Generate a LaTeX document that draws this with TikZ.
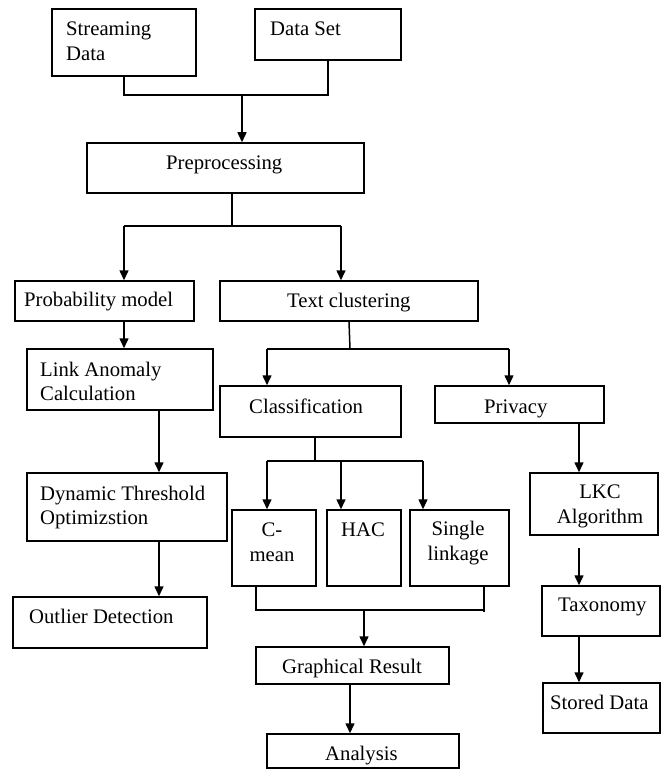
\documentclass[tikz,border=0pt]{standalone}
\usepackage{fontspec}
\setmainfont{Liberation Serif}
\usetikzlibrary{arrows.meta,fit}
\tikzset{
  box/.style={draw=black, line width=1.5pt, inner sep=0pt, rectangle},
  lnk/.style={draw=black, line width=1.5pt},
  arr/.style={lnk, -{Triangle[width=9pt,length=10pt]}},
  txt/.style={inner sep=0pt, font=\fontsize{20.7}{24}\selectfont, text=black}
}
\newcommand\lblw[4]{\node[txt, anchor=base west] (#1) at (#2,#3) {#4};}
\newcommand\lblc[4]{\node[txt, anchor=base] (#1) at (#2,#3) {#4};}
\begin{document}
\begin{tikzpicture}[x=1pt,y=-1pt]
\useasboundingbox[fill=white] (0,0) rectangle (668,770);
% boxes
\node[box, fit={(52,9) (196,76)}] (sd) {};
\node[box, fit={(255,9) (401,60)}] (ds) {};
\node[box, fit={(87,143) (364,193)}] (pp) {};
\node[box, fit={(15,281) (194,321)}] (pm) {};
\node[box, fit={(220,281) (478,321)}] (tc) {};
\node[box, fit={(27,349) (213,410)}] (la) {};
\node[box, fit={(220,386) (401,437)}] (cl) {};
\node[box, fit={(435,386) (604,423)}] (pr) {};
\node[box, fit={(27,473) (227,541)}] (dt) {};
\node[box, fit={(232,510) (316,586)}] (cm) {};
\node[box, fit={(327,510) (401,586)}] (hac) {};
\node[box, fit={(410,510) (509,586)}] (sl) {};
\node[box, fit={(530,473) (658,535)}] (lkc) {};
\node[box, fit={(542,586) (660,636)}] (tx) {};
\node[box, fit={(13,597) (207,648)}] (od) {};
\node[box, fit={(256,647) (449,684)}] (gr) {};
\node[box, fit={(267,734) (459,768)}] (an) {};
\node[box, fit={(543,683) (660,733)}] (st) {};
% texts
\lblw{t1}{66}{36}{Streaming}
\lblw{t2}{66}{61}{Data}
\lblw{t3}{270}{36}{Data Set}
\lblw{t4}{166}{169}{Preprocessing}
\lblw{t5}{24}{306}{Probability model}
\lblw{t6}{287}{307}{Text clustering}
\lblw{t7}{40}{376}{Link Anomaly}
\lblw{t8}{40}{400}{Calculation}
\lblw{t9}{249}{413}{Classification}
\lblw{t10}{484}{413}{Privacy}
\lblw{t11}{40}{500}{Dynamic Threshold}
\lblw{t12}{40}{524}{Optimizstion}
\lblc{t13}{272}{536}{C-}
\lblc{t14}{272}{561}{mean}
\lblc{t15}{363}{536}{HAC}
\lblc{t16}{458}{535}{Single}
\lblc{t17}{458}{560}{linkage}
\lblc{t18}{600}{498}{LKC}
\lblc{t19}{600}{523}{Algorithm}
\lblw{t20}{558}{611}{Taxonomy}
\lblw{t21}{550}{709}{Stored Data}
\lblw{t22}{29}{623}{Outlier Detection}
\lblw{t23}{282}{673}{Graphical Result}
\lblw{t24}{325}{760}{Analysis}
% junction coordinates
\coordinate (j1) at (242,95);
\coordinate (j2) at (232,226);
\coordinate (a1) at (124,226);
\coordinate (a2) at (341,226);
\coordinate (x159) at (159,0);
\coordinate (j3) at (350,349);
\coordinate (b1) at (267,349);
\coordinate (b2) at (509,349);
\coordinate (j4) at (315,461);
\coordinate (c1) at (267,461);
\coordinate (c2) at (341,461);
\coordinate (c3) at (423,461);
\coordinate (d1) at (256,610);
\coordinate (d2) at (484,610);
\coordinate (d3) at (364,610);
\coordinate (e1) at (350,0);
\coordinate (r1) at (579,0);
\coordinate (r2) at (579,548);
% connectors
\draw[lnk] (sd.south) |- (j1) -| (ds.south);
\draw[arr] (j1) -- (j1 |- pp.north);
\draw[lnk] (j2 |- pp.south) -- (j2);
\draw[lnk] (a1) -- (a2);
\draw[arr] (a1) -- (a1 |- pm.north);
\draw[arr] (a2) -- (a2 |- tc.north);
\draw[arr] (a1 |- pm.south) -- (a1 |- la.north);
\draw[arr] (x159 |- la.south) -- (x159 |- dt.north);
\draw[arr] (x159 |- dt.south) -- (x159 |- od.north);
\draw[lnk] (tc.south) -- (j3);
\draw[lnk] (b1) -- (b2);
\draw[arr] (b1) -- (b1 |- cl.north);
\draw[arr] (b2) -- (b2 |- pr.north);
\draw[lnk] (j4 |- cl.south) -- (j4);
\draw[lnk] (c1) -- (c3);
\draw[arr] (c1) -- (c1 |- cm.north);
\draw[arr] (c2) -- (c2 |- hac.north);
\draw[arr] (c3) -- (c3 |- sl.north);
\draw[lnk] (d1 |- cm.south) -- (d1) -- (d2);
\draw[lnk] (d2 |- sl.south) -- ([yshift=-2pt]d2);
\draw[arr] (d3) -- (d3 |- gr.north);
\draw[arr] (e1 |- gr.south) -- (e1 |- an.north);
\draw[arr] (r1 |- pr.south) -- (r1 |- lkc.north);
\draw[arr] (r2) -- (r2 |- tx.north);
\draw[arr] (r1 |- tx.south) -- (r1 |- st.north);
\end{tikzpicture}
\end{document}
